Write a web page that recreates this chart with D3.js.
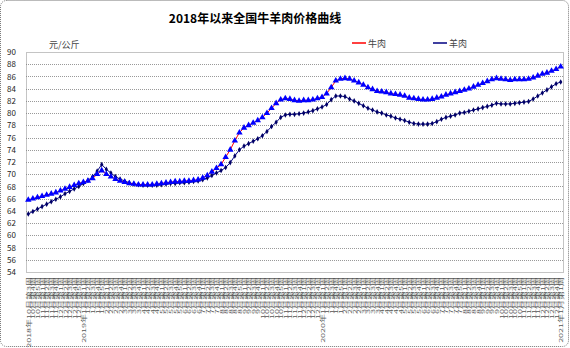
<!DOCTYPE html>
<html>
<head>
<meta charset="utf-8">
<script src="https://cdn.jsdelivr.net/npm/d3@7"></script>
<style>
  body { margin: 0; background: #fff; }
  text { font-family: "Noto Sans CJK SC", "Liberation Sans", sans-serif; }
</style>
</head>
<body>
<script>
var weeks = [
  "2018年10月第3周","10月第4周","10月第5周","11月第1周","11月第2周","11月第3周","11月第4周","12月第1周","12月第2周","12月第3周","12月第4周","12月第5周",
  "2019年1月第1周","1月第2周","1月第3周","1月第4周","1月第5周","2月第1周","2月第2周","2月第3周","2月第4周","3月第1周","3月第2周","3月第3周","3月第4周",
  "4月第1周","4月第2周","4月第3周","4月第4周","5月第1周","5月第2周","5月第3周","5月第4周","5月第5周","6月第1周","6月第2周","6月第3周","6月第4周",
  "7月第1周","7月第2周","7月第3周","7月第4周","8月第1周","8月第2周","8月第3周","8月第4周","8月第5周","9月第1周","9月第2周","9月第3周","9月第4周",
  "10月第1周","10月第2周","10月第3周","10月第4周","10月第5周","11月第1周","11月第2周","11月第3周","11月第4周","12月第1周","12月第2周","12月第3周","12月第4周",
  "2020年1月第1周","1月第2周","1月第3周","1月第4周","1月第5周","2月第1周","2月第2周","2月第3周","2月第4周","3月第1周","3月第2周","3月第3周","3月第4周",
  "4月第1周","4月第2周","4月第3周","4月第4周","4月第5周","5月第1周","5月第2周","5月第3周","5月第4周","6月第1周","6月第2周","6月第3周","6月第4周",
  "7月第1周","7月第2周","7月第3周","7月第4周","7月第5周","8月第1周","8月第2周","8月第3周","8月第4周","9月第1周","9月第2周","9月第3周","9月第4周",
  "10月第1周","10月第2周","10月第3周","10月第4周","10月第5周","11月第1周","11月第2周","11月第3周","11月第4周","12月第1周","12月第2周","12月第3周","12月第4周",
  "2021年1月第1周"
];

// 牛肉
var beef = [
  65.8,66.0,66.2,66.4,66.6,66.8,67.0,67.3,67.6,67.9,68.2,68.5,68.7,68.9,69.3,70.0,70.6,70.0,69.6,69.2,
  68.9,68.7,68.5,68.4,68.3,68.3,68.3,68.3,68.4,68.5,68.6,68.7,68.8,68.8,68.9,68.9,69.0,69.1,69.4,69.8,
  70.4,71.0,71.6,72.8,74.0,75.5,76.8,77.6,78.0,78.4,78.8,79.3,80.0,80.8,81.6,82.2,82.4,82.3,82.1,82.0,
  82.1,82.1,82.2,82.4,82.6,83.2,84.2,85.3,85.6,85.7,85.6,85.3,85.0,84.6,84.2,83.9,83.6,83.5,83.4,83.2,
  83.1,83.0,82.8,82.5,82.4,82.3,82.2,82.2,82.3,82.5,82.7,83.0,83.2,83.4,83.6,83.8,84.0,84.3,84.6,84.9,
  85.2,85.5,85.7,85.6,85.5,85.4,85.5,85.5,85.5,85.6,85.8,86.1,86.4,86.6,86.9,87.2,87.6
];

// 羊肉
var mutton = [
  63.5,63.9,64.3,64.7,65.1,65.5,65.9,66.3,66.8,67.2,67.6,68.0,68.5,69.0,69.6,70.5,71.6,70.8,70.2,69.6,
  69.2,68.9,68.6,68.4,68.3,68.2,68.2,68.2,68.2,68.3,68.4,68.5,68.5,68.6,68.6,68.7,68.8,68.9,69.1,69.4,
  69.8,70.2,70.6,71.1,71.9,73.0,74.0,74.6,75.0,75.4,75.8,76.3,77.0,77.8,78.5,79.3,79.7,79.8,79.8,79.9,
  80.0,80.2,80.4,80.7,81.0,81.4,82.2,82.8,82.8,82.7,82.3,82.0,81.6,81.2,80.8,80.5,80.2,80.0,79.7,79.5,
  79.2,79.0,78.8,78.5,78.3,78.2,78.2,78.2,78.3,78.6,79.0,79.3,79.5,79.7,80.0,80.1,80.3,80.5,80.7,80.9,
  81.1,81.3,81.6,81.5,81.5,81.5,81.6,81.7,81.8,81.9,82.3,82.8,83.3,83.8,84.3,84.8,85.1
];

var yTicks = d3.range(54, 91, 2);

var outerWidth = 570, outerHeight = 348;
var plot = { left: 26, right: 563, top: 52, bottom: 272 };

var svg = d3.select("body").append("svg").attr("width", outerWidth).attr("height", outerHeight);

svg.append("rect").attr("x", 0.5).attr("y", 0.5).attr("width", 568).attr("height", 346).attr("rx", 6)
  .attr("fill", "#fff").attr("stroke", "#777").attr("stroke-dasharray", "1,1");

// weeks repeat across years, so the scale runs on the index
var x = d3.scalePoint().domain(d3.range(weeks.length)).range([plot.left, plot.right]).padding(0.5);
var y = d3.scaleLinear().domain([54, 90]).range([plot.bottom, plot.top]);

// grid
svg.append("g").selectAll("line").data(yTicks.slice(1, -1)).join("line")
  .attr("x1", plot.left).attr("x2", plot.right)
  .attr("y1", function (d) { return Math.round(y(d)) + 0.5; })
  .attr("y2", function (d) { return Math.round(y(d)) + 0.5; })
  .attr("stroke", "#999").attr("stroke-dasharray", "1,1");

svg.append("rect").attr("x", plot.left + 0.5).attr("y", plot.top + 0.5)
  .attr("width", plot.right - plot.left).attr("height", plot.bottom - plot.top)
  .attr("fill", "none").attr("stroke", "#888").attr("stroke-dasharray", "1,1");

var yAxis = d3.axisLeft(y).tickValues(yTicks).tickSize(0).tickPadding(10);
var yAxisGroup = svg.append("g").attr("transform", "translate(" + plot.left + ",0)").call(yAxis);
yAxisGroup.select(".domain").remove();
yAxisGroup.selectAll("text").attr("font-family", "Liberation Sans, Arial, sans-serif").attr("font-size", 8).attr("fill", "#222");

var xAxis = d3.axisBottom(x).tickSize(0).tickPadding(0).tickFormat(function (i) { return weeks[i]; });
var xAxisGroup = svg.append("g").attr("transform", "translate(0," + plot.bottom + ")").call(xAxis);
xAxisGroup.select(".domain").remove();
xAxisGroup.selectAll("text")
  .attr("font-size", 9).attr("fill", "#555")
  .attr("text-anchor", "end").attr("dy", null).attr("y", null)
  .attr("transform", "translate(2,5) rotate(-90) scale(1,0.58)");

var line = d3.line().x(function (d, i) { return x(i); }).y(function (d) { return y(d); });

// 羊肉 line
svg.append("path").datum(mutton)
  .attr("fill", "none").attr("stroke", "#000080").attr("stroke-width", 1).attr("d", line);

// 牛肉 line
svg.append("path").datum(beef)
  .attr("fill", "none").attr("stroke", "#ff0000").attr("stroke-width", 1).attr("d", line);

var tri = d3.symbol().type(d3.symbolTriangle).size(18);
var dia = d3.symbol().type(d3.symbolDiamond).size(9);

svg.append("g").selectAll("path").data(mutton).join("path")
  .attr("d", dia)
  .attr("transform", function (d, i) { return "translate(" + x(i) + "," + y(d) + ")"; })
  .attr("fill", "#000066");

svg.append("g").selectAll("path").data(beef).join("path")
  .attr("d", tri)
  .attr("transform", function (d, i) { return "translate(" + x(i) + "," + y(d) + ")"; })
  .attr("fill", "#0000ff");

// title, unit, legend
svg.append("text").attr("x", 255).attr("y", 23).attr("text-anchor", "middle")
  .attr("font-size", 12).attr("font-weight", "bold").text("2018年以来全国牛羊肉价格曲线");

svg.append("text").attr("x", 49).attr("y", 48).attr("font-size", 9).attr("fill", "#444").text("元/公斤");

var legend = [
  { name: "牛肉", x: 352, line: "#ff0000", mark: tri, fill: "#0000ff" },
  { name: "羊肉", x: 433, line: "#000080", mark: dia, fill: "#000066" }
];
var lg = svg.append("g").selectAll("g").data(legend).join("g")
  .attr("transform", function (d) { return "translate(" + d.x + ",43)"; });
lg.append("line").attr("x1", 0).attr("x2", 14).attr("stroke", function (d) { return d.line; }).attr("stroke-width", 1.5);
lg.append("path").attr("d", function (d) { return d.mark; }).attr("transform", "translate(7,0)").attr("fill", function (d) { return d.fill; });
lg.append("text").attr("x", 16).attr("y", 3.5).attr("font-size", 9).attr("fill", "#444").text(function (d) { return d.name; });
</script>
</body>
</html>
